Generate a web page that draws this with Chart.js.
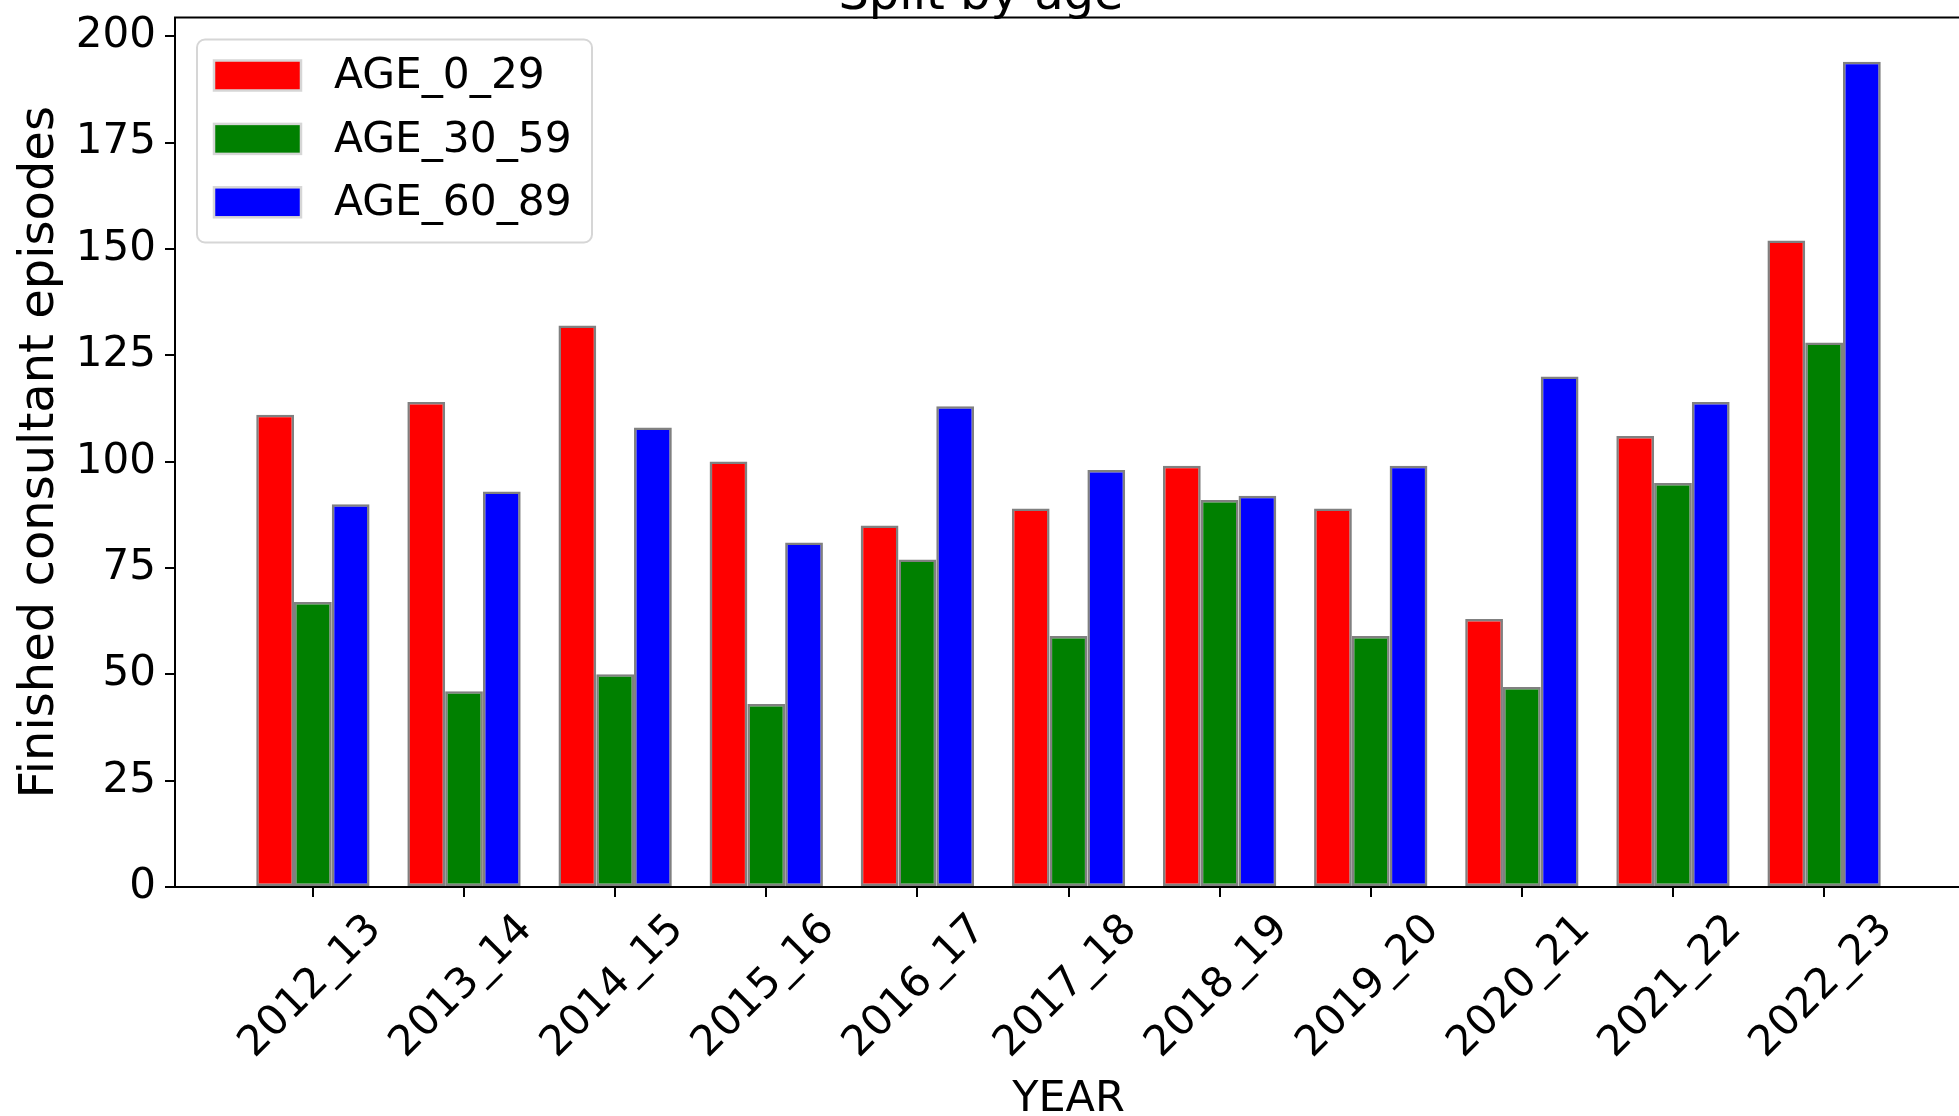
<!DOCTYPE html>
<html>
<head>
<meta charset="utf-8">
<script src="https://cdn.jsdelivr.net/npm/chart.js@4"></script>
<style>
html, body { margin: 0; padding: 0; overflow: hidden; background: #fff; }
#wrap { position: absolute; left: 0; top: -41px; width: 1962px; height: 1167px; }
</style>
</head>
<body>
<div id="wrap"><canvas id="ch"></canvas></div>
<script>
// data
const years = ['2012_13','2013_14','2014_15','2015_16','2016_17','2017_18','2018_19','2019_20','2020_21','2021_22','2022_23'];
const age_0_29  = [111, 114, 132, 100,  85,  89,  99,  89,  63, 106, 152];
const age_30_59 = [ 67,  46,  50,  43,  77,  59,  91,  59,  47,  95, 128];
const age_60_89 = [ 90,  93, 108,  81, 113,  98,  92,  99, 120, 114, 194];
const yTicks = [0, 25, 50, 75, 100, 125, 150, 175, 200];

Chart.defaults.font.family = 'DejaVu Sans';
Chart.defaults.color = '#000';

function toPoints(vals){
    return vals.map((v, i) => ({x: i, y: v}));
}

// spines drawn over the bars like matplotlib does
const frame = {
    id: 'frame',
    afterDatasetsDraw(chart){
        const {ctx, chartArea: a} = chart;
        ctx.save();
        ctx.strokeStyle = '#000';
        ctx.lineWidth = 2;
        ctx.strokeRect(a.left, a.top, a.right - a.left, a.bottom - a.top);
        ctx.restore();
    }
};

// legend box in the upper left of the axes
const boxLegend = {
    id: 'boxLegend',
    afterDraw(chart){
        const {ctx, chartArea: a} = chart;
        const x0 = a.left + 22, y0 = a.top + 22, w = 395, h = 203;
        ctx.save();
        ctx.beginPath();
        ctx.roundRect(x0, y0, w, h, 8);
        ctx.fillStyle = 'rgba(255,255,255,0.8)';
        ctx.fill();
        ctx.strokeStyle = '#d6d6d6';
        ctx.lineWidth = 2;
        ctx.stroke();
        ctx.font = '42.3px "DejaVu Sans"';
        ctx.textBaseline = 'middle';
        chart.data.datasets.forEach((ds, i) => {
            const cy = y0 + 36 + i * 63.4;
            ctx.fillStyle = ds.backgroundColor;
            ctx.fillRect(x0 + 17, cy - 15, 87, 30);
            ctx.strokeStyle = ds.borderColor;
            ctx.lineWidth = 2.5;
            ctx.strokeRect(x0 + 17, cy - 15, 87, 30);
            ctx.fillStyle = '#000';
            ctx.fillText(ds.label, x0 + 137, cy + 2);
        });
        ctx.restore();
    }
};

const ctx = document.getElementById('ch').getContext('2d');
new Chart(ctx, {
    type: 'bar',
    data: {
        datasets: [
            {label: 'AGE_0_29',  data: toPoints(age_0_29),  backgroundColor: '#ff0000'},
            {label: 'AGE_30_59', data: toPoints(age_30_59), backgroundColor: '#008000'},
            {label: 'AGE_60_89', data: toPoints(age_60_89), backgroundColor: '#0000ff'}
        ]
    },
    options: {
        responsive: true,
        maintainAspectRatio: false,
        devicePixelRatio: 1,
        animation: false,
        datasets: {
            bar: {
                borderColor: '#808080',
                borderWidth: 2.5,
                borderSkipped: false,
                categoryPercentage: 0.75,
                barPercentage: 1
            }
        },
        layout: {padding: 0},
        plugins: {
            legend: {display: false},
            tooltip: {enabled: false},
            title: {
                display: true,
                text: 'Split by age',
                font: {size: 48, weight: 'normal', lineHeight: 0.8},
                padding: {top: 18.8, bottom: 1.3}
            }
        },
        scales: {
            x: {
                type: 'linear',
                min: -0.9125,
                max: 10.9125,
                offset: false,
                afterBuildTicks: s => { s.ticks = years.map((_, i) => ({value: i})); },
                afterFit: s => { s.height = 239; },
                ticks: {
                    callback: v => years[v],
                    font: {size: 42},
                    minRotation: 45,
                    maxRotation: 45,
                    padding: 8,
                    labelOffset: 62
                },
                grid: {display: true, offset: false, drawOnChartArea: false, tickLength: 10, color: '#000', lineWidth: 2},
                border: {display: true, color: '#000', width: 2},
                title: {display: true, text: 'YEAR', font: {size: 43}, padding: {top: 0, bottom: 0}}
            },
            y: {
                min: 0,
                max: 204.4,
                afterBuildTicks: s => { s.ticks = yTicks.map(v => ({value: v})); },
                afterFit: s => { s.width = 175; },
                ticks: {font: {size: 42}, padding: 9},
                grid: {display: true, drawOnChartArea: false, tickLength: 10, color: '#000', lineWidth: 2},
                border: {display: true, color: '#000', width: 2},
                title: {display: true, text: 'Finished consultant episodes', font: {size: 48}, padding: {top: 12, bottom: 0}}
            }
        }
    },
    plugins: [frame, boxLegend]
});
</script>
</body>
</html>
